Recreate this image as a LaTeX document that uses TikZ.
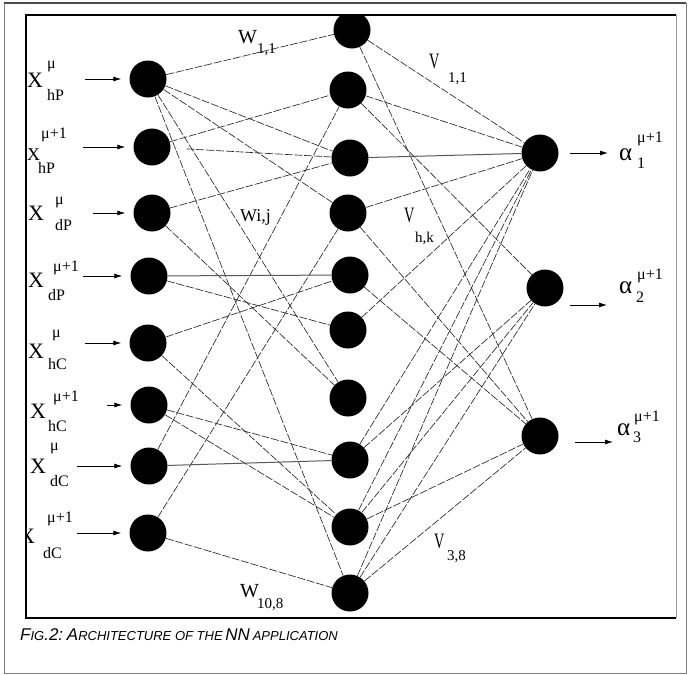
\documentclass[tikz,border=0pt]{standalone}
\usepackage{fontspec}
\setmainfont{Liberation Serif}
\newfontfamily\capfont{Liberation Sans}
\usetikzlibrary{arrows.meta}
\newcommand\capbig[1]{{\fontsize{17}{17}\selectfont #1}}
\newcommand\capsmall[1]{{\fontsize{13}{13}\selectfont #1}}
\begin{document}
\begin{tikzpicture}[x=1pt,y=-1pt,
  neuron/.style={circle,fill=black,minimum size=37pt,inner sep=0pt},
  wire/.style={draw=black!85,line width=0.65pt,dash pattern=on 8pt off 1.8pt},
  solidwire/.style={draw=black!65,line width=1pt},
  inarrow/.style={-{Latex[length=8pt,width=5pt]},line width=0.8pt},
  bigtxt/.style={font=\fontsize{22}{22}\selectfont,inner sep=0pt,anchor=base west},
  midtxt/.style={font=\fontsize{18}{18}\selectfont,inner sep=0pt,anchor=base west},
  smalltxt/.style={font=\fontsize{16}{16}\selectfont,inner sep=0pt,anchor=base west},
  alphatxt/.style={font=\fontsize{25}{25}\selectfont,inner sep=0pt,anchor=base west},
  wtxt/.style={font=\fontsize{20}{20}\selectfont,inner sep=0pt,anchor=base west},
  vtxt/.style={font=\fontsize{22}{22}\selectfont,inner sep=0pt,anchor=base west},
  wsub/.style={font=\fontsize{15}{15}\selectfont,inner sep=0pt,anchor=base west},
]
\useasboundingbox (0,0) rectangle (689,675);
\fill[white] (0,0) rectangle (689,675);

% ---------- neurons ----------
\foreach \n/\x/\y in {i1/148/79,i2/152/147,i3/152/213,i4/149/276,i5/148/343,i6/149/405,i7/149/466,i8/148/533}
  \node[neuron] (\n) at (\x,\y) {};
\begin{scope}
  \clip (0,15) rectangle (689,675);
  \node[neuron] (h1) at (352,30) {};
\end{scope}
\foreach \n/\x/\y in {h2/348/90,h3/350/158,h4/348/213,h5/350/275,h6/348/330,h7/348/398,h8/350/460,h9/350/527,h10/350/593}
  \node[neuron] (\n) at (\x,\y) {};
\node[neuron] (o1) at (540,153) {};
\node[neuron] (o2) at (545,288) {};
\node[neuron] (o3) at (540,436) {};

% ---------- connections ----------
\foreach \a/\b in {i1/h1,i1/h3,i1/h4,i1/h7,i1/h10,i2/h2,i3/h3,i3/h7,i4/h6,i5/h5,i5/h9,i6/h8,i6/h9,i7/h2,i8/h4,i8/h10}
  \draw[wire] (\a) -- (\b);
\draw[wire,shorten <=16pt] (i2) -- (h3);
\draw[solidwire] (i4) -- (h5);
\draw[solidwire] (i7) -- (h8);
\foreach \a/\b in {h1/o1,h1/o3,h2/o1,h2/o2,h4/o1,h4/o3,h5/o3,h6/o1,h8/o1,h8/o2,h9/o1,h9/o2,h9/o3,h10/o1,h10/o2,h10/o3}
  \draw[wire] (\a) -- (\b);
\draw[solidwire] (h3) -- (o1);

% ---------- input arrows ----------
\coordinate (a1) at (85,79);
\coordinate (a2) at (83,147);
\coordinate (a3) at (93,213);
\coordinate (a4) at (83,276);
\coordinate (a5) at (85,343);
\coordinate (a6) at (107,405);
\coordinate (a7) at (77,466);
\coordinate (a8) at (77,533);
\foreach \k in {1,...,8}
  \draw[inarrow,shorten >=8pt] (a\k) -- (i\k.west);

% ---------- output arrows ----------
\coordinate (s1) at (570,153); \coordinate (e1) at (608,153);
\coordinate (s2) at (570,305); \coordinate (e2) at (607,305);
\coordinate (s3) at (575,442); \coordinate (e3) at (613,442);
\foreach \k in {1,2,3}
  \draw[inarrow] (s\k) -- (e\k);

% ---------- input labels ----------
\node[bigtxt] (x1) at (27,87) {X};
\node[smalltxt] (x1p) at (47,68) {μ};
\node[smalltxt] (x1b) at (47,100) {hP};
\node[midtxt] (x2) at (27,160) {X};
\node[smalltxt] (x2p) at (41,138) {μ+1};
\node[smalltxt] (x2b) at (38,173) {hP};
\node[bigtxt] (x3) at (28,220) {X};
\node[smalltxt] (x3p) at (55,204) {μ};
\node[smalltxt] (x3b) at (55,230) {dP};
\node[bigtxt] (x4) at (28,287) {X};
\node[smalltxt] (x4p) at (53,271) {μ+1};
\node[smalltxt] (x4b) at (48,300) {dP};
\node[bigtxt] (x5) at (28,358) {X};
\node[smalltxt] (x5p) at (52,337) {μ};
\node[smalltxt] (x5b) at (48,369) {hC};
\node[bigtxt] (x6) at (30,418) {X};
\node[smalltxt] (x6p) at (53,401) {μ+1};
\node[smalltxt] (x6b) at (48,431) {hC};
\node[bigtxt] (x7) at (30,473) {X};
\node[smalltxt] (x7p) at (50,450) {μ};
\node[smalltxt] (x7b) at (50,486) {dC};
\begin{scope}
  \clip (27,500) rectangle (100,560);
  \node[bigtxt] (x8) at (19,543) {X};
\end{scope}
\node[smalltxt] (x8p) at (47,522) {μ+1};
\node[smalltxt] (x8b) at (43,558) {dC};

% ---------- output labels ----------
\node[alphatxt] (y1) at (619,160) {α};
\node[smalltxt] (y1p) at (637,142) {μ+1};
\node[smalltxt] (y1b) at (637,168) {1};
\node[alphatxt] (y2) at (619,293) {α};
\node[smalltxt] (y2p) at (637,279) {μ+1};
\node[smalltxt] (y2b) at (636,302) {2};
\node[alphatxt] (y3) at (617,435) {α};
\node[smalltxt] (y3p) at (634,421) {μ+1};
\node[smalltxt] (y3b) at (633,442) {3};

% ---------- weight labels ----------
\node[wtxt] (w11) at (238,43) {W};
\node[wsub] (w11s) at (257,53) {1,1};
\node[font=\fontsize{18}{18}\selectfont,inner sep=0pt,anchor=base west] (wij) at (240,221) {Wi,j};
\node[wtxt] (w108) at (240,597) {W};
\node[wsub] (w108s) at (257,608) {10,8};
\node[vtxt] (v11) at (429,68) {\scalebox{0.65}[1]{V}};
\node[wsub] (v11s) at (448,82) {1,1};
\node[vtxt] (vhk) at (404,222) {\scalebox{0.65}[1]{V}};
\node[wsub] (vhks) at (415,242) {h,k};
\node[vtxt] (v38) at (434,548) {\scalebox{0.65}[1]{V}};
\node[wsub] (v38s) at (447,560) {3,8};

% ---------- frames ----------
\draw[black!50,line width=1pt] (4,3) rectangle (686,673);
\draw[black!70,line width=1.4pt] (4,3) -- (686,3);
\draw[line width=1.6pt] (676,618) -- (26,618) -- (26,15) -- (676,15);
\draw[black!40,line width=1pt] (676,15) -- (676,618);

% ---------- caption ----------
\node[anchor=base west,inner sep=0pt,font=\capfont\itshape] (cap) at (20,640)
  {\capbig{F}\capsmall{IG}\capbig{.2:} \capbig{A}\capsmall{RCHITECTURE OF THE} \capbig{NN} \capsmall{APPLICATION}};
\end{tikzpicture}
\end{document}
